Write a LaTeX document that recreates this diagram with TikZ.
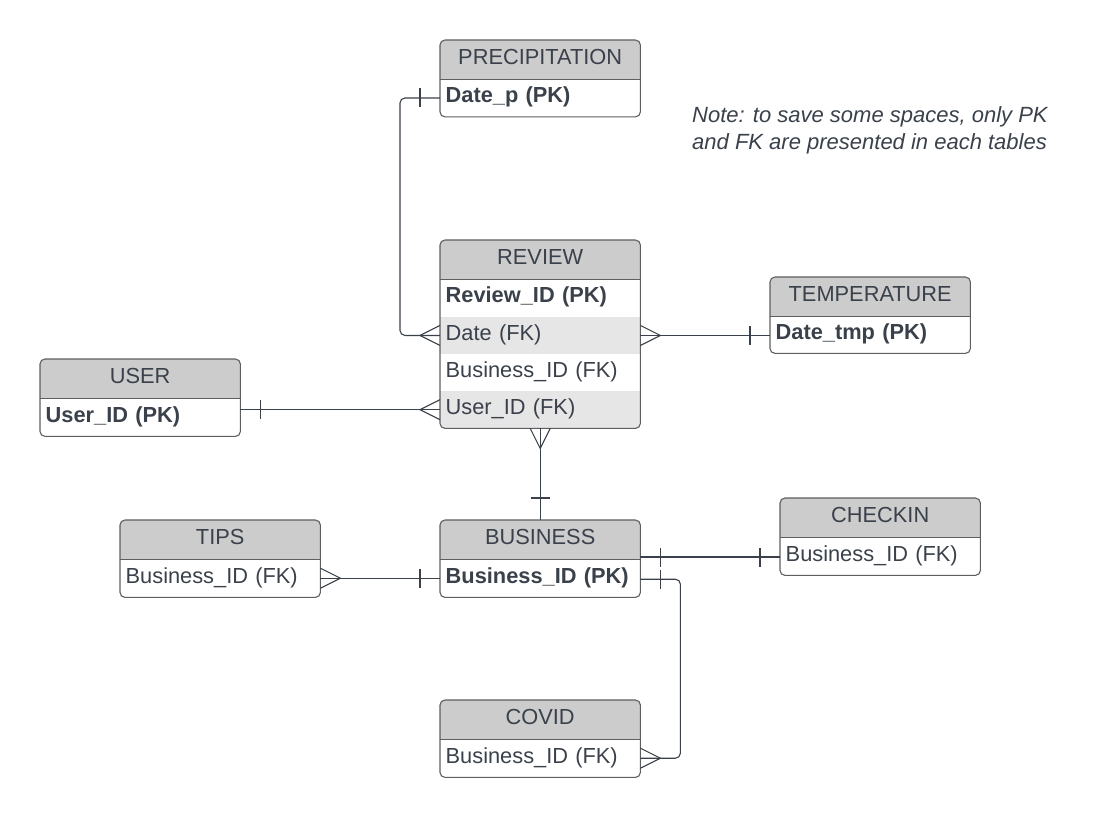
\documentclass[tikz,border=0pt]{standalone}
\usepackage{fontspec}
\setmainfont{Liberation Sans}
\definecolor{txt}{HTML}{3A414A}
\definecolor{hdrfill}{HTML}{CCCCCC}
\definecolor{altfill}{HTML}{E6E6E6}
\definecolor{bord}{HTML}{5E5E5E}
\definecolor{lin}{HTML}{3A414A}
\begin{document}
\begin{tikzpicture}[x=1pt,y=-1pt,
  hdr/.style={rectangle,anchor=north west,minimum width=200,minimum height=39,inner sep=0,text height=16,text depth=7,fill=hdrfill,text=txt,font=\fontsize{21.8}{24}\selectfont},
  rowbox/.style={rectangle,anchor=north west,minimum width=200,minimum height=37.5,inner xsep=5.5,inner ysep=0,text height=16,text depth=6,text width=189,align=left,text=txt,font=\fontsize{21.8}{24}\selectfont},
  alt/.style={fill=altfill},
  tbl/.style={draw=bord,line width=1.1,rounded corners=5},
  sep/.style={draw=bord,line width=1.1},
  conn/.style={draw=lin,line width=1.1},
  rc/.style={rounded corners=5},
  notetxt/.style={anchor=north west,inner sep=0,text=txt,align=left,font=\fontsize{22}{27}\selectfont\itshape}
]
\useasboundingbox (0,0) rectangle (1102,817);

% ---------- PRECIPITATION ----------
\begin{scope}
\clip[rc] (440,40) rectangle (640,117);
\node[hdr] (prec) at (440,40) {PRECIPITATION};
\node[rowbox] (prec1) at (440,79) {\bfseries Date\_p (PK)};
\end{scope}
\draw[tbl] (prec.north west) rectangle (prec1.south east);
\draw[sep] (prec.south west) -- (prec.south east);

% ---------- REVIEW ----------
\begin{scope}
\clip[rc] (440,240) rectangle (640,428);
\node[hdr] (rev) at (440,240) {REVIEW};
\node[rowbox] (rev1) at (440,279) {\bfseries Review\_ID (PK)};
\node[rowbox,alt] (rev2) at (440,316.5) {Date (FK)};
\node[rowbox] (rev3) at (440,354) {Business\_ID (FK)};
\node[rowbox,alt,minimum height=37] (rev4) at (440,391) {User\_ID (FK)};
\end{scope}
\draw[tbl] (rev.north west) rectangle (rev4.south east);
\draw[sep] (rev.south west) -- (rev.south east);

% ---------- TEMPERATURE ----------
\begin{scope}
\clip[rc] (770,277) rectangle (970,353);
\node[hdr] (temp) at (770,277) {TEMPERATURE};
\node[rowbox,minimum height=37] (temp1) at (770,316) {\bfseries Date\_tmp (PK)};
\end{scope}
\draw[tbl] (temp.north west) rectangle (temp1.south east);
\draw[sep] (temp.south west) -- (temp.south east);

% ---------- USER ----------
\begin{scope}
\clip[rc] (40,359) rectangle (240,436);
\node[hdr] (user) at (40,359) {USER};
\node[rowbox,minimum height=38] (user1) at (40,398) {\bfseries User\_ID (PK)};
\end{scope}
\draw[tbl] (user.north west) rectangle (user1.south east);
\draw[sep] (user.south west) -- (user.south east);

% ---------- TIPS ----------
\begin{scope}
\clip[rc] (120,520) rectangle (320,597);
\node[hdr] (tips) at (120,520) {TIPS};
\node[rowbox,minimum height=38] (tips1) at (120,559) {Business\_ID (FK)};
\end{scope}
\draw[tbl] (tips.north west) rectangle (tips1.south east);
\draw[sep] (tips.south west) -- (tips.south east);

% ---------- BUSINESS ----------
\begin{scope}
\clip[rc] (440,520) rectangle (640,597);
\node[hdr] (bus) at (440,520) {BUSINESS};
\node[rowbox,minimum height=38] (bus1) at (440,559) {\bfseries Business\_ID (PK)};
\end{scope}
\draw[tbl] (bus.north west) rectangle (bus1.south east);
\draw[sep] (bus.south west) -- (bus.south east);

% ---------- CHECKIN ----------
\begin{scope}
\clip[rc] (780,498) rectangle (980,575);
\node[hdr] (chk) at (780,498) {CHECKIN};
\node[rowbox,minimum height=38] (chk1) at (780,537) {Business\_ID (FK)};
\end{scope}
\draw[tbl] (chk.north west) rectangle (chk1.south east);
\draw[sep] (chk.south west) -- (chk.south east);

% ---------- COVID ----------
\begin{scope}
\clip[rc] (440,700) rectangle (640,777);
\node[hdr] (cov) at (440,700) {COVID};
\node[rowbox,minimum height=38] (cov1) at (440,739) {Business\_ID (FK)};
\end{scope}
\draw[tbl] (cov.north west) rectangle (cov1.south east);
\draw[sep] (cov.south west) -- (cov.south east);

% ---------- Note ----------
\node[notetxt] (note) at (692,106) {Note: to save some spaces, only PK\\and FK are presented in each tables};

% ---------- Connectors ----------
% (yshift is in page units: positive = up)
% PRECIPITATION -- REVIEW (Date)
\coordinate (pc1) at ([xshift=-40]prec1.west);
\coordinate (pc2) at (pc1 |- rev2.west);
\draw[conn,rc] (prec1.west) -- (pc1) -- (pc2) -- (rev2.west);
\draw[conn] ([xshift=-20,yshift=-9.5]prec1.west) -- ([xshift=-20,yshift=9.5]prec1.west);
\draw[conn] ([yshift=-10]rev2.west) -- ([xshift=-20]rev2.west) -- ([yshift=10]rev2.west);

% REVIEW (Date) -- TEMPERATURE
\coordinate (tt) at (temp1.west |- rev2.east);
\draw[conn] (rev2.east) -- (tt);
\draw[conn] ([yshift=-10]rev2.east) -- ([xshift=20]rev2.east) -- ([yshift=10]rev2.east);
\draw[conn] ([xshift=-20,yshift=-9.5]tt) -- ([xshift=-20,yshift=9.5]tt);

% USER -- REVIEW (User_ID)
\coordinate (uu) at (user1.east |- rev4.west);
\draw[conn] (uu) -- (rev4.west);
\draw[conn] ([xshift=20,yshift=-9.5]uu) -- ([xshift=20,yshift=9.5]uu);
\draw[conn] ([yshift=-10]rev4.west) -- ([xshift=-20]rev4.west) -- ([yshift=10]rev4.west);

% REVIEW -- BUSINESS
\draw[conn] (rev4.south) -- (bus.north);
\draw[conn] ([xshift=-10]rev4.south) -- ([yshift=-20]rev4.south) -- ([xshift=10]rev4.south);
\draw[conn] ([xshift=-9.5,yshift=22]bus.north) -- ([xshift=9.5,yshift=22]bus.north);

% TIPS -- BUSINESS
\draw[conn] (tips1.east) -- (bus1.west);
\draw[conn] ([yshift=-10]tips1.east) -- ([xshift=20]tips1.east) -- ([yshift=10]tips1.east);
\draw[conn] ([xshift=-20,yshift=-9.5]bus1.west) -- ([xshift=-20,yshift=9.5]bus1.west);

% BUSINESS -- CHECKIN
\coordinate (bc1) at ([yshift=2]bus1.north east);
\coordinate (bc2) at (bc1 -| chk1.west);
\draw[conn] (bc1) -- (bc2);
\draw[conn] ([xshift=20,yshift=-9.5]bc1) -- ([xshift=20,yshift=9.5]bc1);
\draw[conn] ([xshift=-20,yshift=-9.5]bc2) -- ([xshift=-20,yshift=9.5]bc2);

% BUSINESS -- COVID
\coordinate (bv0) at ([yshift=-1]bus1.east);
\coordinate (bv1) at ([xshift=40]bv0);
\coordinate (bv2) at (bv1 |- cov1.east);
\draw[conn,rc] (bv0) -- (bv1) -- (bv2) -- (cov1.east);
\draw[conn] ([xshift=20,yshift=-9.5]bv0) -- ([xshift=20,yshift=9.5]bv0);
\draw[conn] ([yshift=-10]cov1.east) -- ([xshift=20]cov1.east) -- ([yshift=10]cov1.east);
\end{tikzpicture}
\end{document}
